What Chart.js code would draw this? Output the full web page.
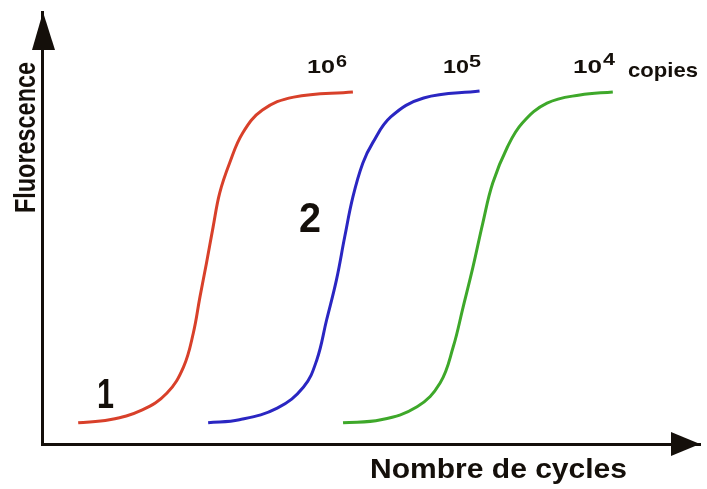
<!DOCTYPE html>
<html>
<head>
<meta charset="utf-8">
<script src="https://cdn.jsdelivr.net/npm/chart.js@4/dist/chart.umd.min.js"></script>
<style>
  html, body { margin: 0; padding: 0; background: #ffffff; }
  #wrap { width: 707px; height: 489px; position: relative; }
</style>
</head>
<body>
<div id="wrap"><canvas id="c" width="707" height="489"></canvas></div>
<script>
// Series: cycle number (x) and fluorescence (y)
const seriesNames = ['10^6', '10^5', '10^4'];
const redCycles   = [2.2, 4.1, 6.1, 7.6, 8.6, 9.2, 9.6, 10.0, 10.4, 10.8, 11.4, 12.2, 13.4, 15.3, 18.9];
const redFluo     = [4.9, 5.6, 7.9, 11.8, 17.8, 25.7, 34.0, 41.9, 50.2, 58.1, 65.0, 72.0, 77.3, 80.3, 81.5];
const blueCycles  = [10.1, 12.0, 14.3, 15.9, 16.7, 17.3, 17.9, 18.4, 18.9, 19.5, 20.1, 21.2, 23.2, 26.6];
const blueFluo    = [4.9, 5.6, 8.3, 13.2, 19.4, 28.7, 38.0, 47.9, 57.2, 65.0, 69.7, 75.7, 80.1, 81.7];
const greenCycles = [18.3, 20.6, 22.8, 24.2, 25.0, 25.6, 26.2, 26.8, 27.4, 28.3, 29.2, 30.7, 32.7, 34.7];
const greenFluo   = [4.9, 5.6, 8.6, 14.1, 22.5, 31.7, 41.0, 51.2, 60.4, 68.8, 74.3, 78.9, 80.8, 81.5];

function toPoints(xs, ys) { return xs.map((x, i) => ({ x: x, y: ys[i] })); }

function fitText(ctx, txt, x, y, w, size) {
  ctx.save();
  ctx.font = 'bold ' + size + 'px "Liberation Sans", Arial, sans-serif';
  ctx.textBaseline = 'alphabetic';
  ctx.textAlign = 'left';
  const m = ctx.measureText(txt).width;
  ctx.translate(x, y);
  ctx.scale(w / m, 1);
  ctx.fillText(txt, 0, 0);
  ctx.restore();
}

const decor = {
  id: 'decor',
  afterDraw(chart) {
    const ctx = chart.ctx;
    const a = chart.chartArea;
    ctx.save();
    ctx.fillStyle = '#140f0a';
    // arrow heads
    ctx.beginPath();
    ctx.moveTo(a.left + 1, a.top);
    ctx.lineTo(a.left + 1 - 11, a.top + 38);
    ctx.lineTo(a.left + 1 + 12, a.top + 38);
    ctx.closePath();
    ctx.fill();
    ctx.beginPath();
    ctx.moveTo(a.right, a.bottom);
    ctx.lineTo(a.right - 29, a.bottom - 12);
    ctx.lineTo(a.right - 29, a.bottom + 12);
    ctx.closePath();
    ctx.fill();

    // axis titles
    fitText(ctx, 'Nombre de cycles', 370, 478, 257, 28);
    ctx.save();
    ctx.font = 'bold 30px "Liberation Sans", Arial, sans-serif';
    const fw = ctx.measureText('Fluorescence').width;
    ctx.translate(35, 213);
    ctx.rotate(-Math.PI / 2);
    ctx.scale(151 / fw, 1);
    ctx.fillText('Fluorescence', 0, 0);
    ctx.restore();

    // curve labels
    fitText(ctx, '10', 307, 73, 28, 19);
    fitText(ctx, '6', 336, 67, 11, 16);
    fitText(ctx, '10', 443, 73, 26, 19);
    fitText(ctx, '5', 469, 67, 12, 16);
    fitText(ctx, '10', 573, 73, 29, 19);
    fitText(ctx, '4', 603, 65, 12, 16);
    fitText(ctx, 'copies', 628, 77, 70, 21);
    fitText(ctx, '1', 97, 408, 17, 42);
    fitText(ctx, '2', 299, 232, 22, 42);
    ctx.restore();
  }
};

const lineStyle = { borderWidth: 3, pointRadius: 0, fill: false, tension: 0.4 };

new Chart(document.getElementById('c'), {
  type: 'line',
  data: {
    datasets: [
      Object.assign({ label: seriesNames[0], data: toPoints(redCycles, redFluo), borderColor: '#d8402a' }, lineStyle),
      Object.assign({ label: seriesNames[1], data: toPoints(blueCycles, blueFluo), borderColor: '#2a26c2' }, lineStyle),
      Object.assign({ label: seriesNames[2], data: toPoints(greenCycles, greenFluo), borderColor: '#3ea82a' }, lineStyle)
    ]
  },
  options: {
    responsive: false,
    animation: false,
    events: [],
    layout: { padding: { left: 42, top: 12, right: 7, bottom: 45 } },
    plugins: { legend: { display: false }, tooltip: { enabled: false } },
    scales: {
      x: {
        type: 'linear', min: 0, max: 40,
        grid: { display: false },
        ticks: { display: false },
        border: { display: true, color: '#140f0a', width: 3 },
        afterFit(s) { s.height = 0; }
      },
      y: {
        type: 'linear', min: 0, max: 100,
        grid: { display: false },
        ticks: { display: false },
        border: { display: true, color: '#140f0a', width: 3 },
        afterFit(s) { s.width = 0; }
      }
    }
  },
  plugins: [decor]
});
</script>
</body>
</html>
